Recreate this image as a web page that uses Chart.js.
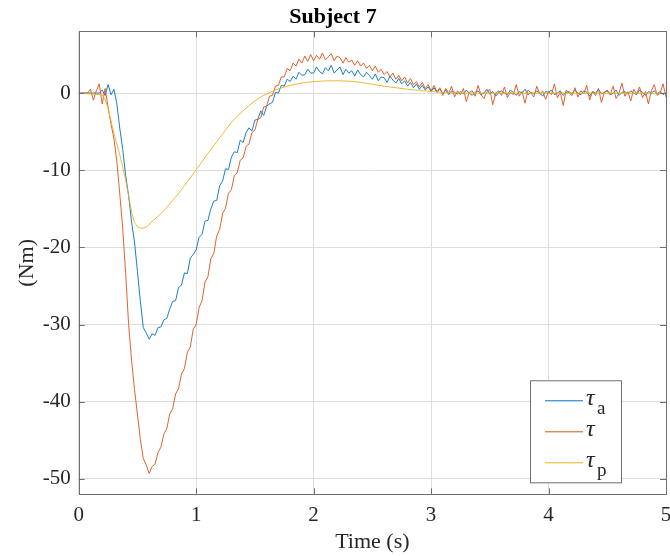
<!DOCTYPE html>
<html>
<head>
<meta charset="utf-8">
<script src="https://cdn.jsdelivr.net/npm/chart.js@4.4.1/dist/chart.umd.min.js"></script>
<style>
  html, body { margin: 0; padding: 0; background: #fff; }
  #wrap { width: 670px; height: 556px; }
</style>
</head>
<body>
<div id="wrap"><canvas id="torqueChart"></canvas></div>
<script>
// sampling step of tauA / tau (s)
const dt = 0.025;

// tau_a (blue), one value every dt from 0 to 5 s
const tauA = [
  0, 0, 0, 0, 0, 0, 0, 0, 0.4, -0.3,
  1.1, -0.2, 0.5, -1.4, -4.6, -7.3, -10.7, -13.3, -16.7, -19.3,
  -23.1, -27.0, -30.4, -31.1, -31.9, -31.2, -31.4, -30.4, -30.3, -29.4,
  -29.2, -28.0, -27.0, -26.9, -25.2, -24.9, -23.3, -23.4, -21.4, -20.9,
  -20.3, -18.7, -18.3, -16.6, -16.5, -15.0, -14.0, -13.9, -12.0, -11.4,
  -9.8, -9.9, -8.3, -7.6, -7.7, -6.1, -6.4, -5.1, -4.5, -4.9,
  -3.5, -3.4, -2.3, -2.9, -1.7, -1.4, -1.2, 0.1, 0.0, 1.0,
  0.9, 1.8, 1.5, 2.2, 1.8, 2.7, 2.3, 2.4, 3.1, 2.6,
  2.6, 3.4, 2.8, 2.5, 3.3, 2.9, 3.6, 2.6, 3.0, 3.4,
  2.4, 3.1, 2.6, 2.9, 2.2, 3.0, 2.4, 2.1, 2.7, 2.3,
  1.8, 2.5, 1.6, 2.1, 2.0, 1.4, 2.2, 1.7, 1.3, 1.9,
  1.2, 1.6, 0.9, 1.4, 0.7, 1.2, 0.5, 1.0, 0.4, 0.8,
  0.2, 0.7, 0.1, 0.5, 0.0, 0.4, -0.2, 0.3, 0.1, -0.1,
  0.2, -0.1, 0.4, 0.0, -0.3, 0.1, 0.3, -0.2, 0.0, 0.5,
  -0.1, 0.2, -0.4, 0.1, 0.3, 0.0, -0.2, 0.4, 0.1, -0.3,
  0.2, 0.0, 0.5, -0.2, 0.1, -0.1, 0.3, 0.0, -0.4, 0.2,
  0.1, 0.4, -0.2, 0.0, 0.3, -0.3, 0.1, 0.2, -0.1, 0.4,
  0.0, -0.2, 0.3, 0.1, -0.4, 0.2, 0.0, 0.5, -0.1, 0.1,
  0.3, -0.2, 0.0, 0.4, -0.3, 0.1, 0.2, -0.1, 0.3, 0.0,
  -0.2, 0.4, 0.1, -0.3, 0.2, 0.0, 0.3, -0.1, 0.2, -0.2, 0.1
];

// tau (orange), same sampling
const tau = [
  0, 0, 0, 0, 0.5, -0.9, 0.3, 1.2, -1.4, 0.6,
  -1.8, -4.0, -5.9, -8.9, -13.1, -17.6, -23.4, -30.0, -34.6, -38.4,
  -41.6, -44.9, -47.4, -48.2, -49.3, -48.4, -48.1, -46.6, -45.9, -44.2,
  -43.5, -41.6, -40.9, -39.0, -38.3, -36.4, -35.7, -33.6, -32.9, -30.6,
  -30.0, -27.8, -26.9, -24.5, -23.8, -21.5, -20.8, -18.5, -17.7, -15.6,
  -14.9, -13.0, -12.5, -10.7, -10.3, -8.7, -8.4, -6.9, -6.6, -5.1,
  -4.8, -3.4, -3.2, -1.8, -1.7, -0.4, -0.3, 0.9, 1.0, 2.1,
  2.1, 3.2, 2.9, 3.9, 3.5, 4.4, 3.9, 4.8, 4.1, 5.0,
  4.2, 4.9, 4.4, 5.2, 4.3, 4.7, 5.1, 4.2, 4.8, 4.6,
  3.9, 4.6, 4.0, 4.3, 3.6, 4.2, 3.5, 3.9, 3.2, 3.6,
  2.9, 3.5, 2.7, 3.1, 2.4, 2.8, 2.1, 2.6, 1.8, 2.3,
  1.6, 2.1, 1.3, 1.9, 1.1, 1.5, 0.8, 1.4, 0.6, 1.1,
  0.3, 1.0, 0.2, 0.7, -0.3, 0.6, 0.0, 0.9, -0.5, 0.3,
  -0.2, 0.6, -1.1, 0.1, 0.3, -0.4, 1.0, -0.2, -0.7, 0.2,
  0.5, -1.5, 0.0, 0.3, -0.3, 0.8, -0.6, 0.1, -0.2, 1.1,
  -0.4, 0.2, -1.3, 0.4, 0.0, -0.5, 0.9, -0.1, 0.3, -0.8,
  0.2, -0.2, 1.2, -0.6, 0.1, -1.6, 0.4, 0.0, -0.3, 0.7,
  -0.5, 0.3, -0.1, 1.0, -0.9, 0.2, -0.3, 0.6, -1.2, 0.1,
  0.4, -0.2, 0.9, -0.7, 0.0, 1.3, -0.4, 0.2, -1.0, 0.5,
  -0.1, 0.8, -0.6, 0.2, -1.4, 0.3, 1.1, -0.3, 0.0, 1.2, -0.5
];

// tau_p (yellow) is smooth, so it has its own time points
const timeP = [
  0, 0.2, 0.225, 0.25, 0.275, 0.3, 0.325, 0.35, 0.375, 0.4,
  0.425, 0.45, 0.475, 0.5, 0.525, 0.55, 0.575, 0.6, 0.65, 0.7,
  0.75, 0.8, 0.85, 0.9, 0.95, 1.0, 1.05, 1.1, 1.15, 1.2,
  1.25, 1.3, 1.35, 1.4, 1.45, 1.5, 1.55, 1.6, 1.65, 1.7,
  1.75, 1.8, 1.85, 1.9, 1.95, 2.0, 2.1, 2.2, 2.3, 2.4,
  2.5, 2.6, 2.7, 2.8, 2.9, 3.0, 3.1, 3.2, 3.4, 5.0
];
const tauP = [
  0, -0.2, -0.8, -2.0, -3.6, -5.2, -6.6, -8.0, -9.6, -11.3,
  -13.3, -15.4, -16.8, -17.3, -17.5, -17.5, -17.4, -17.0, -16.3, -15.6,
  -14.8, -13.9, -13.0, -12.0, -11.0, -9.9, -8.9, -7.8, -6.8, -5.8,
  -4.8, -3.8, -3.0, -2.3, -1.6, -1.0, -0.5, -0.1, 0.25, 0.55,
  0.8, 1.0, 1.15, 1.3, 1.4, 1.5, 1.58, 1.6, 1.55, 1.4,
  1.15, 0.9, 0.7, 0.5, 0.35, 0.2, 0.1, 0.05, 0, 0
];

const xTicks = [0, 1, 2, 3, 4, 5];
const yTicks = [-50, -40, -30, -20, -10, 0];
const legendNames = [['τ', 'a'], ['τ', ''], ['τ', 'p']];
const seriesColors = ['#0072BD', '#D95319', '#EDB120'];

const time = tauA.map((v, i) => +(i * dt).toFixed(3));
const toPoints = (xs, ys) => ys.map((y, i) => ({ x: xs[i], y: y }));

const axisColor = '#6f6f6f';
const textColor = '#262626';
const serif = '"Liberation Serif", "Times New Roman", serif';

// box round the plot with inward ticks on all four sides (MATLAB style)
const boxPlugin = {
  id: 'boxPlugin',
  afterDatasetsDraw(chart) {
    const { ctx, chartArea: a, scales } = chart;
    ctx.save();
    ctx.strokeStyle = axisColor;
    ctx.lineWidth = 1;
    ctx.beginPath();
    xTicks.forEach(v => {
      const px = Math.round(scales.x.getPixelForValue(v)) + 0.5;
      ctx.moveTo(px, a.bottom); ctx.lineTo(px, a.bottom - 6);
      ctx.moveTo(px, a.top); ctx.lineTo(px, a.top + 6);
    });
    yTicks.forEach(v => {
      const py = Math.round(scales.y.getPixelForValue(v)) + 0.5;
      ctx.moveTo(a.left, py); ctx.lineTo(a.left + 6, py);
      ctx.moveTo(a.right, py); ctx.lineTo(a.right - 6, py);
    });
    ctx.stroke();
    ctx.strokeRect(Math.round(a.left) + 0.5, Math.round(a.top) + 0.5,
      Math.round(a.right - a.left), Math.round(a.bottom - a.top));

    // legend
    const lx = a.right - 136, ly = a.bottom - 114, lw = 91, lh = 102;
    ctx.fillStyle = '#fff';
    ctx.fillRect(lx, ly, lw, lh);
    ctx.strokeStyle = '#6f6f6f';
    ctx.strokeRect(lx + 0.5, ly + 0.5, lw, lh);
    legendNames.forEach((name, i) => {
      const y = ly + 20 + i * 31;
      ctx.strokeStyle = seriesColors[i];
      ctx.lineWidth = 1;
      ctx.beginPath();
      ctx.moveTo(lx + 15, y + 0.5);
      ctx.lineTo(lx + 53, y + 0.5);
      ctx.stroke();
      ctx.fillStyle = textColor;
      ctx.textBaseline = 'alphabetic';
      ctx.textAlign = 'left';
      ctx.font = 'italic 24px ' + serif;
      ctx.fillText(name[0], lx + 56, y + 5);
      if (name[1]) {
        ctx.font = '19px ' + serif;
        ctx.fillText(name[1], lx + 67, y + 14);
      }
    });
    ctx.restore();
  }
};

const ctx = document.getElementById('torqueChart').getContext('2d');
new Chart(ctx, {
  type: 'line',
  data: {
    datasets: [
      {
        label: 'τp',
        data: toPoints(timeP, tauP),
        borderColor: seriesColors[2],
        borderWidth: 0.9,
        order: 1
      },
      {
        label: 'τ',
        data: toPoints(time, tau),
        borderColor: seriesColors[1],
        borderWidth: 0.9,
        order: 2
      },
      {
        label: 'τa',
        data: toPoints(time, tauA),
        borderColor: seriesColors[0],
        borderWidth: 0.9,
        order: 3
      }
    ]
  },
  options: {
    responsive: true,
    maintainAspectRatio: false,
    animation: false,
    events: [],
    elements: {
      point: { radius: 0 },
      line: { tension: 0 }
    },
    layout: { padding: { left: 0, right: 4, top: 0, bottom: 0 } },
    plugins: {
      legend: { display: false },
      tooltip: { enabled: false },
      title: {
        display: true,
        text: 'Subject 7',
        color: '#000',
        font: { family: serif, size: 22, weight: 'bold' },
        padding: { top: 4, bottom: 1 }
      }
    },
    scales: {
      x: {
        type: 'linear',
        min: 0,
        max: 5,
        afterBuildTicks: s => { s.ticks = xTicks.map(v => ({ value: v })); },
        afterFit: s => { s.height = 61.7; s.paddingLeft = 0; s.paddingRight = 0; },
        grid: { color: '#dedede', drawTicks: false },
        border: { display: false },
        ticks: {
          color: textColor,
          padding: 9,
          maxRotation: 0,
          font: { family: serif, size: 21 }
        },
        title: {
          display: true,
          text: 'Time (s)',
          color: textColor,
          font: { family: serif, size: 22 },
          padding: { top: 0, bottom: 1 }
        }
      },
      y: {
        min: -52,
        max: 8,
        afterBuildTicks: s => { s.ticks = yTicks.map(v => ({ value: v })); },
        afterFit: s => { s.width = 78.7; },
        grid: { color: '#dedede', drawTicks: false },
        border: { display: false },
        ticks: {
          color: textColor,
          padding: 8,
          font: { family: serif, size: 21 }
        },
        title: {
          display: true,
          text: '(Nm)',
          color: textColor,
          font: { family: serif, size: 22 },
          padding: { top: 14, bottom: 0 }
        }
      }
    }
  },
  plugins: [boxPlugin]
});
</script>
</body>
</html>
